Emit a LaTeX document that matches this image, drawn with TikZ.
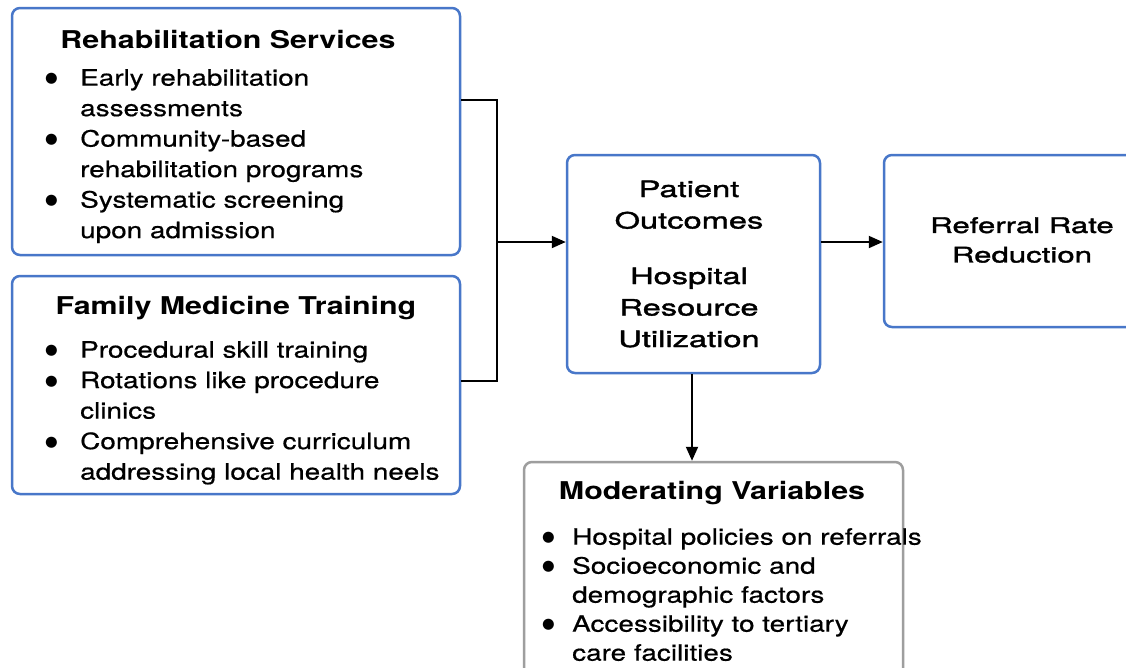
\documentclass[tikz,border=0pt]{standalone}
\usepackage{fontspec}
\setmainfont{TeX Gyre Heros}[FakeStretch=1.24, UprightFeatures={FakeBold=0.6}]
\newfontfamily\outcomefont{TeX Gyre Heros}[FakeStretch=1.45, FakeBold=1.6]
\newfontfamily\dotfont{DejaVu Sans}
\usetikzlibrary{arrows.meta}

\definecolor{boxblue}{RGB}{72,119,201}
\definecolor{boxgray}{RGB}{158,158,158}

% bullet and hanging indent for the item lists
\newcommand{\bul}[1][35pt]{\makebox[#1][l]{\raisebox{3pt}{\dotfont\fontsize{14.5}{14.5}\selectfont ●}}}
\newcommand{\ind}[1][35pt]{\hspace*{#1}}

\begin{document}
\begin{tikzpicture}[x=1pt, y=-1pt,
    panel/.style={draw=boxblue, line width=2.5pt, rounded corners=8pt, fill=white, inner sep=0pt},
    modpanel/.style={panel, draw=boxgray},
    heading/.style={font=\bfseries\fontsize{24.5}{29}\selectfont, inner sep=0pt},
    items/.style={font=\fontsize{22.5}{30.5}\selectfont, align=left, anchor=north west, inner sep=0pt},
    outcome/.style={font=\outcomefont\fontsize{22.5}{31.5}\selectfont, align=center, inner sep=0pt},
    link/.style={line width=2pt},
    arrow/.style={link, -{Triangle[length=14pt, width=12pt]}}
    ]

\clip (0,0) rectangle (1126,667);
\fill[white] (0,0) rectangle (1126,667);

% Boxes
\node[panel, minimum width=448pt, minimum height=247pt] (rehab) at (236,131.5) {};
\node[panel, minimum width=448pt, minimum height=218pt] (family) at (236,385) {};
\node[panel, minimum width=253pt, minimum height=218pt] (patient) at (693.5,264) {};
\node[panel, minimum width=256pt, minimum height=172pt] (referral) at (1012,241) {};
\node[modpanel, minimum width=379pt, minimum height=230pt] (moderating) at (713.5,577) {};

% Rehabilitation
\node[heading] (rehab title) at (228,40) {Rehabilitation Services};
\node[items] (rehab list) at (45,69) {\bul Early rehabilitation\\ \ind assessments\\
    \bul Community-based\\ \ind rehabilitation programs\\
    \bul Systematic screening\\ \ind upon admission};

% Family medicine
\node[heading] (family title) at (236,308) {Family Medicine Training};
\node[items] (family list) at (45,341) {\bul Procedural skill training\\
    \bul Rotations like procedure\\ \ind clinics\\
    \bul Comprehensive curriculum\\ \ind addressing local health neels};

% Outcomes
\node[outcome] (patient text) at (689,264) {Patient\\Outcomes\\[24pt]Hospital\\Resource\\Utilization};
\node[outcome, font=\outcomefont\fontsize{21.5}{29.5}\selectfont] (referral text) at (1022,240) {Referral Rate\\Reduction};

% Moderators
\node[heading] (moderating title) at (712,493) {Moderating Variables};
\node[items, font=\fontsize{22.5}{29}\selectfont] (moderating list) at (542,528) {\bul[30pt]Hospital policies on referrals\\
    \bul[30pt]Socioeconomic and\\ \ind[30pt]demographic factors\\
    \bul[30pt]Accessibility to tertiary\\ \ind[30pt]care facilities};

% Arrows
\coordinate (junction) at (497,242);
\draw[link] ([yshift=31.5pt]rehab.east) -| (junction) |- ([yshift=4pt]family.east);
\draw[arrow] (junction) -- (junction -| patient.west);
\draw[arrow] (patient.east |- junction) -- (referral.west |- junction);
\draw[arrow] ([xshift=-1.5pt]patient.south) -- ([xshift=-1.5pt]patient.south |- moderating.north);

\end{tikzpicture}
\end{document}
